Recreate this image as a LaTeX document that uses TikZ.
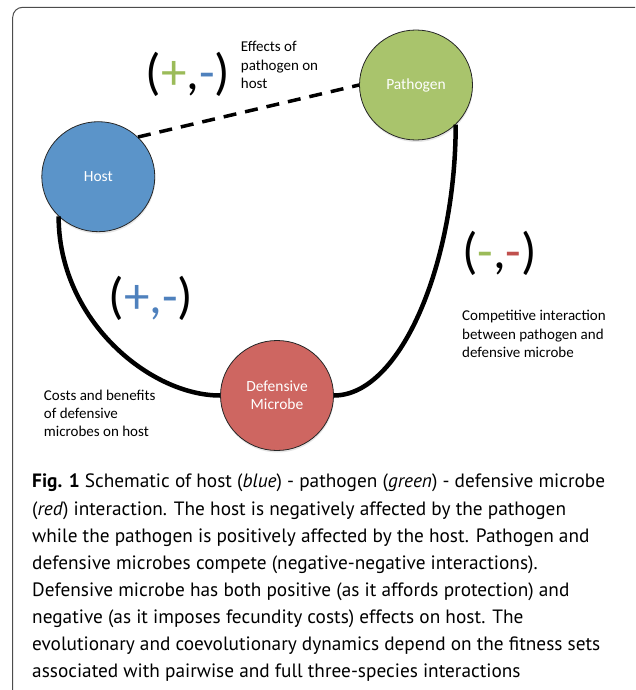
\documentclass[tikz,border=0pt]{standalone}
\usepackage{fontspec}
\setmainfont{Carlito}
\newfontfamily\capfont{PT Sans}
\usetikzlibrary{shapes.geometric,shadows}

\definecolor{hostblue}{HTML}{5B94C9}
\definecolor{pathgreen}{HTML}{A9C46C}
\definecolor{microred}{HTML}{CE6661}
\definecolor{signgreen}{HTML}{9BBB59}
\definecolor{signblue}{HTML}{4F81BD}
\definecolor{signred}{HTML}{C0504D}

\begin{document}
\begin{tikzpicture}[x=1pt,y=-1pt,
   species/.style={ellipse,draw=black!85,line width=0.8pt,minimum width=113pt,
      minimum height=110pt,inner sep=0pt,text=white,align=center,
      font=\fontsize{15.5}{18.3}\selectfont,
      drop shadow={opacity=0.2,shadow xshift=0.5pt,shadow yshift=-2pt}},
   sign/.style={inner sep=0pt,font=\fontsize{51}{51}\selectfont},
   note/.style={anchor=west,align=left,inner sep=0pt,font=\fontsize{15}{18.3}\selectfont},
   link/.style={line width=4.5pt}]
   \useasboundingbox (0,0) rectangle (635,690);
   \begin{scope}
      \clip (0,0) rectangle (635,690);
      \draw[black!70,line width=1pt,rounded corners=10pt] (12.7,7.3) rectangle (660,720);
   \end{scope}

   % the three species
   \node[species,fill=hostblue]  (host)     at (98.3,176.7) {Host};
   \node[species,fill=pathgreen] (pathogen) at (416,85)     {Pathogen};
   \node[species,fill=microred]  (microbe)  at (277,395.5)  {Defensive\\Microbe};

   % interactions
   \draw[link,line width=3.5pt,dash pattern=on 13pt off 9pt] (host.45) -- (pathogen.west);
   \draw[link] (host.225) .. controls +(0,104) and +(-70,0) .. (microbe.west);
   \draw[link] (pathogen.-45) .. controls +(0,138) and +(67,0) .. (microbe.east);

   % signs and notes
   \node[sign] (hpsign) at (188,74)      {(\textcolor{signgreen}{+},\textcolor{signblue}{-})};
   \node[note] (hpnote) at (240.7,65)    {Effects of\\pathogen on\\host};
   \node[sign] (pmsign) at (499.5,253.5) {(\textcolor{signgreen}{-},\textcolor{signred}{-})};
   \node[note] (pmnote) at (462,334)     {Competitive interaction\\between pathogen and\\defensive microbe};
   \node[sign] (hmsign) at (151,298.5)   {(\textcolor{signblue}{+,-})};
   \node[note] (hmnote) at (43.7,413.5)  {Costs and benefits\\of defensive\\microbes on host};

   % caption
   \node[anchor=north west,inner sep=0pt,align=left,font=\capfont\fontsize{19.3}{27.1}\selectfont]
      (caption) at (32,474) {\textbf{Fig. 1} Schematic of host (\textit{blue}) - pathogen (\textit{green}) - defensive microbe\\
      (\textit{red}) interaction. The host is negatively affected by the pathogen\\
      while the pathogen is positively affected by the host. Pathogen and\\
      defensive microbes compete (negative-negative interactions).\\
      Defensive microbe has both positive (as it affords protection) and\\
      negative (as it imposes fecundity costs) effects on host. The\\
      evolutionary and coevolutionary dynamics depend on the fitness sets\\
      associated with pairwise and full three-species interactions};
\end{tikzpicture}
\end{document}
